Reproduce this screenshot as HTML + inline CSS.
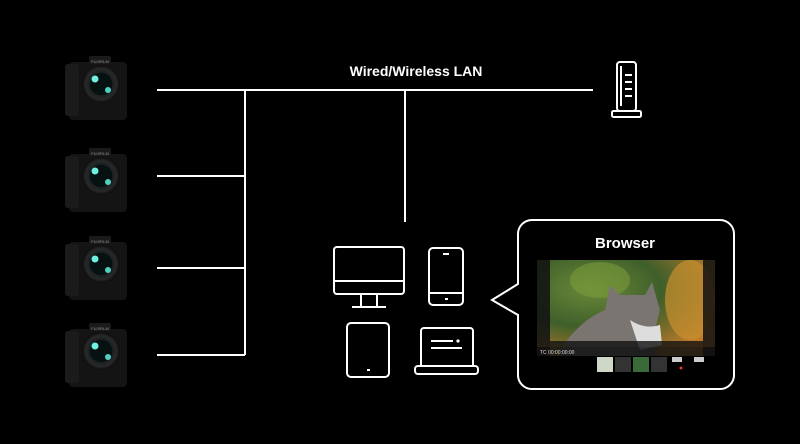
<!DOCTYPE html>
<html><head><meta charset="utf-8"><style>
html,body{margin:0;padding:0;background:#000;width:800px;height:444px;overflow:hidden}
</style></head><body>
<svg width="800" height="444" viewBox="0 0 800 444" xmlns="http://www.w3.org/2000/svg">
<defs>
<radialGradient id="lens" cx="50%" cy="50%" r="50%">
<stop offset="0" stop-color="#0a2a2a"/><stop offset="0.55" stop-color="#0d1a1c"/><stop offset="0.8" stop-color="#2a2a2a"/><stop offset="1" stop-color="#0c0c0c"/></radialGradient>
<radialGradient id="bg1" cx="30%" cy="30%" r="80%">
<stop offset="0" stop-color="#6a8a3a"/><stop offset="0.5" stop-color="#3f5f2a"/><stop offset="1" stop-color="#c07a2a"/></radialGradient>
<g id="cam">
<rect x="6" y="8" width="58" height="58" rx="4" fill="#141414"/>
<rect x="2" y="10" width="14" height="52" rx="3" fill="#1b1b1b"/>
<rect x="26" y="2" width="22" height="8" rx="2" fill="#1a1a1a"/>
<text x="37" y="9" font-size="4" fill="#999" text-anchor="middle" font-family="Liberation Sans,sans-serif">FUJIFILM</text>
<circle cx="38" cy="30" r="19" fill="url(#lens)"/>
<circle cx="38" cy="30" r="12" fill="#061212" stroke="#252525"/>
<circle cx="32" cy="25" r="3.5" fill="#6ff0e0"/>
<circle cx="45" cy="36" r="3" fill="#4fd0c0"/>
</g>
</defs>
<use href="#cam" x="63" y="54"/>
<use href="#cam" x="63" y="146"/>
<use href="#cam" x="63" y="234"/>
<use href="#cam" x="63" y="321"/>
<g stroke="#fff" stroke-width="2" fill="none">
<line x1="157" y1="90" x2="593" y2="90"/>
<line x1="245" y1="90" x2="245" y2="355"/>
<line x1="157" y1="176" x2="245" y2="176"/>
<line x1="157" y1="268" x2="245" y2="268"/>
<line x1="157" y1="355" x2="245" y2="355"/>
<line x1="405" y1="90" x2="405" y2="222"/>
<rect x="617" y="62" width="19" height="49" rx="3"/>
<rect x="612" y="111" width="29" height="6" rx="1.5"/>
<line x1="621" y1="66" x2="621" y2="106"/>
<line x1="625" y1="75" x2="632" y2="75"/><line x1="625" y1="82" x2="632" y2="82"/>
<line x1="625" y1="89" x2="632" y2="89"/><line x1="625" y1="96" x2="632" y2="96"/>
<rect x="334" y="247" width="70" height="47" rx="3"/>
<line x1="334" y1="281" x2="404" y2="281"/>
<line x1="361" y1="294" x2="361" y2="306"/><line x1="377" y1="294" x2="377" y2="306"/>
<line x1="352" y1="307" x2="386" y2="307"/>
<rect x="429" y="248" width="34" height="57" rx="4"/>
<line x1="429" y1="293" x2="463" y2="293"/>
<line x1="443" y1="254" x2="449" y2="254"/><line x1="445" y1="299" x2="448" y2="299"/>
<rect x="347" y="323" width="42" height="54" rx="4"/>
<line x1="367" y1="370" x2="370" y2="370"/>
<path d="M421 366 V331 a3 3 0 0 1 3 -3 H470 a3 3 0 0 1 3 3 V366"/>
<rect x="415" y="366" width="63" height="8" rx="3"/>
<line x1="431" y1="341" x2="453" y2="341"/><line x1="431" y1="348" x2="462" y2="348"/>
<path d="M532 220 H720 a14 14 0 0 1 14 14 V375 a14 14 0 0 1 -14 14 H532 a14 14 0 0 1 -14 -14 V315 L492 300 L518 284 V234 a14 14 0 0 1 14 -14 Z"/>
</g>
<circle cx="458" cy="341" r="1.6" fill="#fff"/>
<text x="416" y="76" font-size="14" font-weight="bold" fill="#fff" text-anchor="middle" font-family="Liberation Sans,sans-serif">Wired/Wireless LAN</text>
<text x="625" y="248" font-size="15" font-weight="bold" fill="#fff" text-anchor="middle" font-family="Liberation Sans,sans-serif">Browser</text>
<rect x="537" y="260" width="178" height="96" fill="url(#bg1)"/>
<ellipse cx="600" cy="280" rx="30" ry="18" fill="#7a9a3a" opacity="0.6"/>
<ellipse cx="690" cy="300" rx="25" ry="40" fill="#c9902f" opacity="0.7"/>
<path d="M560 350 Q580 320 605 310 L610 285 L620 295 L645 295 L652 282 L660 310 Q655 330 650 345 L660 356 L560 356 Z" fill="#7a7570"/>
<path d="M630 320 Q645 330 660 325 L662 345 L640 350 Z" fill="#ddd"/>
<rect x="537" y="260" width="13" height="96" fill="#111" opacity="0.85"/>
<rect x="703" y="260" width="12" height="96" fill="#111" opacity="0.85"/>
<rect x="550" y="341" width="153" height="6" fill="#111" opacity="0.8"/>
<rect x="537" y="347" width="178" height="9" fill="#111" opacity="0.85"/>
<text x="540" y="354" font-size="5" fill="#ddd" font-family="Liberation Sans,sans-serif">TC 00:00:00:00</text>
<rect x="537" y="356" width="178" height="18" fill="#000"/>
<rect x="597" y="357" width="16" height="15" fill="#cfd8c8"/>
<rect x="615" y="357" width="16" height="15" fill="#333"/>
<rect x="633" y="357" width="16" height="15" fill="#3a6a3a"/>
<rect x="651" y="357" width="16" height="15" fill="#333"/>
<rect x="672" y="357" width="10" height="5" fill="#ccc"/>
<rect x="694" y="357" width="10" height="5" fill="#ccc"/>
<circle cx="681" cy="368" r="1.5" fill="#e33"/>
</svg>
</body></html>
